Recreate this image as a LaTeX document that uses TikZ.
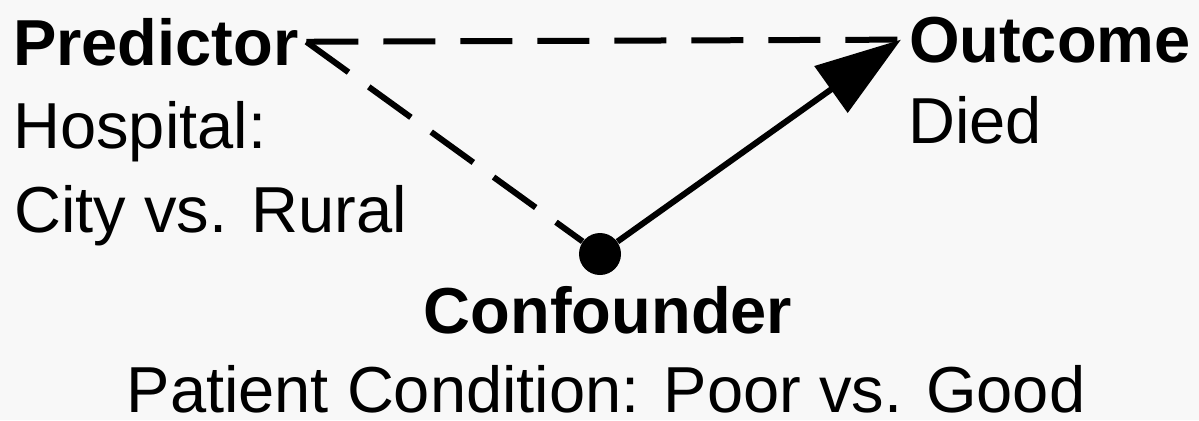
\documentclass[tikz,border=0pt]{standalone}
\usepackage{fontspec}
\setmainfont{Liberation Sans}
\usetikzlibrary{arrows.meta,positioning}
\definecolor{bgGray}{RGB}{248,248,248}

\begin{document}
\begin{tikzpicture}[
x=0.5pt, y=-0.5pt,
title/.style={font=\fontsize{32.5}{40}\selectfont\bfseries, inner sep=0pt, outer sep=4pt, anchor=base west},
desc/.style={font=\fontsize{32.5}{40}\selectfont, inner sep=0pt, anchor=base west},
confdot/.style={circle, fill=black, minimum size=21pt, inner sep=0pt},
dashline/.style={line width=3pt, dash pattern=on 26pt off 12.5pt},
arrow/.style={-{Triangle[length=43pt, width=28pt]}, line width=3pt}
]
\fill[bgGray] (0,0) rectangle (1199,420);
\useasboundingbox (0,0) rectangle (1199,420);

% predictor
\node[title] (pred) at (5,65) {Predictor};
\node[desc] (predA) at (13,148) {Hospital:};
\node[desc] (predB) at (14,232) {City vs. Rural};

% outcome
\node[title] (out) at (901,62) {Outcome};
\node[desc] (outA) at (908,143) {Died};

% confounder
\node[confdot] (conf) at (600,254) {};
\node[title, anchor=base] (confT) at (608,333) {Confounder};
\node[desc, anchor=base, text depth=0pt] (confA) at (606,412) {Patient Condition: Poor vs. Good};

\draw[dashline] (pred.east) -- (out.west);
\draw[dashline] (pred.east) -- (conf);
\draw[arrow] (conf) -- (out.west);
\end{tikzpicture}
\end{document}
